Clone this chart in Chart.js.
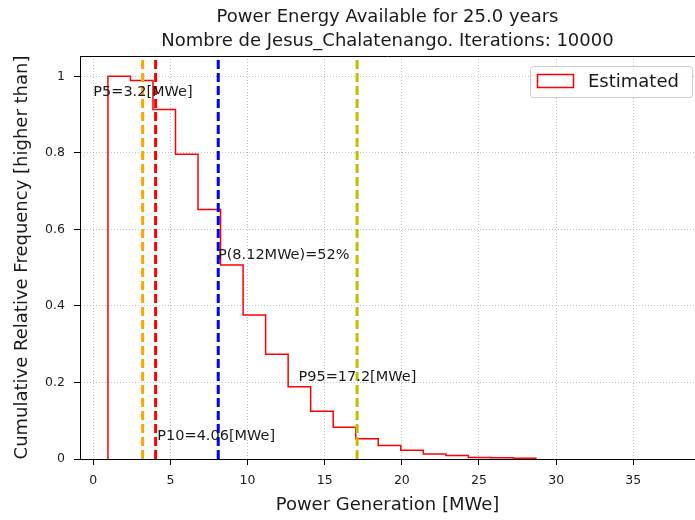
<!DOCTYPE html>
<html lang="en">
<head>
<meta charset="UTF-8">
<title>Power Energy Available</title>
<style>
  html, body { margin: 0; padding: 0; background: #fff; }
  #wrap { width: 695px; height: 520px; }
</style>
</head>
<body>
<div id="wrap"><canvas id="myChart" width="695" height="520"></canvas></div>

<script src="https://cdn.jsdelivr.net/npm/chart.js"></script>
<script>
    // histogram (cumulative, "higher than")
    const binEdges = [0.95, 2.41, 3.87, 5.33, 6.79, 8.25, 9.71, 11.17, 12.63, 14.09,
        15.55, 17.01, 18.47, 19.93, 21.39, 22.85, 24.31, 25.77, 27.23, 28.69];
    const cumFreq = [1.0, 0.989, 0.913, 0.796, 0.652, 0.507, 0.376, 0.274, 0.189, 0.125,
        0.083, 0.053, 0.035, 0.023, 0.013, 0.009, 0.004, 0.003, 0.002];

    // percentile lines
    const pNames = ['P5', 'P10', 'P(8.12MWe)', 'P95'];
    const pValues = [3.2, 4.04, 8.1, 17.1];
    const pLabels = ['P5=3.2[MWe]', 'P10=4.06[MWe]', 'P(8.12MWe)=52%', 'P95=17.2[MWe]'];

    const xTicks = [0, 5, 10, 15, 20, 25, 30, 35];
    const yTicks = [0, 0.2, 0.4, 0.6, 0.8, 1];

    const FONT = "'DejaVu Sans', sans-serif";
    const TXT = '#1a1a1a';
    const lineColors = ['#ffa500', '#ff0000', '#0000ff', '#bfbf00'];
    // where each label sits (data coords, left/baseline)
    const labelPos = [[0, 0.948], [4.15, 0.05], [8.08, 0.522], [13.3, 0.205]];

    const X_MIN = -0.86, X_MAX = 39, Y_MAX = 1.053;

    // step outline like histtype='step'
    const stepPts = [{ x: binEdges[0], y: 0 }];
    cumFreq.forEach((v, i) => {
        stepPts.push({ x: binEdges[i], y: v });
        stepPts.push({ x: binEdges[i + 1], y: v });
    });
    stepPts.push({ x: binEdges[binEdges.length - 1], y: 0 });

    const datasets = pValues.map((v, i) => ({
        label: pNames[i],
        data: [{ x: v, y: 0 }, { x: v, y: Y_MAX }],
        showLine: true,
        borderColor: lineColors[i],
        borderWidth: 3,
        borderDash: [9, 4],
        pointRadius: 0,
        fill: false
    }));
    datasets.push({
        label: 'Estimated',
        data: stepPts,
        showLine: true,
        borderColor: '#ff0000',
        borderWidth: 1.5,
        pointRadius: 0,
        fill: false
    });

    const decor = {
        id: 'decor',
        afterDatasetsDraw(chart) {
            const { ctx, scales: { x, y } } = chart;
            ctx.save();
            ctx.font = '14.5px ' + FONT;
            ctx.fillStyle = TXT;
            ctx.textAlign = 'left';
            ctx.textBaseline = 'alphabetic';
            pLabels.forEach((t, i) => {
                ctx.fillText(t, x.getPixelForValue(labelPos[i][0]), y.getPixelForValue(labelPos[i][1]));
            });
            ctx.restore();
        },
        afterDraw(chart) {
            const { ctx, chartArea: a } = chart;
            ctx.save();
            // top spine
            ctx.strokeStyle = '#000';
            ctx.lineWidth = 1;
            ctx.beginPath();
            ctx.moveTo(a.left, a.top + 0.5);
            ctx.lineTo(a.right, a.top + 0.5);
            ctx.stroke();

            const cx = (a.left + a.right) / 2;
            ctx.fillStyle = TXT;
            ctx.textAlign = 'center';
            ctx.textBaseline = 'middle';
            ctx.font = '18px ' + FONT;
            ctx.fillText('Power Energy Available for 25.0 years', cx, 17);
            ctx.fillText('Nombre de Jesus_Chalatenango. Iterations: 10000', cx, 41);
            ctx.fillText('Power Generation [MWe]', cx, 505);

            ctx.save();
            ctx.translate(22, (a.top + a.bottom) / 2);
            ctx.rotate(-Math.PI / 2);
            ctx.fillText('Cumulative Relative Frequency [higher than]', 0, 0);
            ctx.restore();

            // legend box
            const lx = 530, ly = 66, lw = 162, lh = 31;
            ctx.fillStyle = 'rgba(255,255,255,0.85)';
            ctx.strokeStyle = '#cccccc';
            ctx.lineWidth = 1;
            ctx.beginPath();
            ctx.roundRect(lx + 0.5, ly + 0.5, lw, lh, 3);
            ctx.fill();
            ctx.stroke();
            ctx.strokeStyle = '#ff0000';
            ctx.lineWidth = 1.5;
            ctx.strokeRect(537.5, 74.5, 36, 13);
            ctx.fillStyle = TXT;
            ctx.textAlign = 'left';
            ctx.font = '18px ' + FONT;
            ctx.fillText(datasets[datasets.length - 1].label, 588, 82);
            ctx.restore();
        }
    };

    const ctx = document.getElementById('myChart');

    new Chart(ctx, {
        type: 'scatter',
        data: { datasets: datasets },
        options: {
            responsive: false,
            animation: false,
            devicePixelRatio: 1,
            layout: { padding: { top: 56, left: 0, right: 0, bottom: 0 } },
            plugins: {
                legend: { display: false },
                tooltip: { enabled: false },
                title: { display: false }
            },
            scales: {
                x: {
                    type: 'linear',
                    min: X_MIN,
                    max: X_MAX,
                    afterBuildTicks: s => { s.ticks = xTicks.map(v => ({ value: v })); },
                    afterFit: s => { s.height = 61; },
                    grid: {
                        color: '#b0b0b0',
                        lineWidth: 0.8,
                        tickColor: '#000',
                        tickLength: 6,
                        tickWidth: 1
                    },
                    border: { color: '#000', width: 1, dash: [1, 2] },
                    ticks: {
                        font: { family: FONT, size: 12.5 },
                        color: TXT,
                        padding: 8,
                        maxRotation: 0,
                        autoSkip: false,
                        callback: v => String(v)
                    }
                },
                y: {
                    type: 'linear',
                    min: 0,
                    max: Y_MAX,
                    afterBuildTicks: s => { s.ticks = yTicks.map(v => ({ value: v })); },
                    afterFit: s => { s.width = 80; },
                    grid: {
                        color: '#b0b0b0',
                        lineWidth: 0.8,
                        tickColor: '#000',
                        tickLength: 6,
                        tickWidth: 1
                    },
                    border: { color: '#000', width: 1, dash: [1, 2] },
                    ticks: {
                        font: { family: FONT, size: 12.5 },
                        color: TXT,
                        padding: 9,
                        callback: v => String(v)
                    }
                }
            }
        },
        plugins: [decor]
    });
</script>
</body>
</html>
